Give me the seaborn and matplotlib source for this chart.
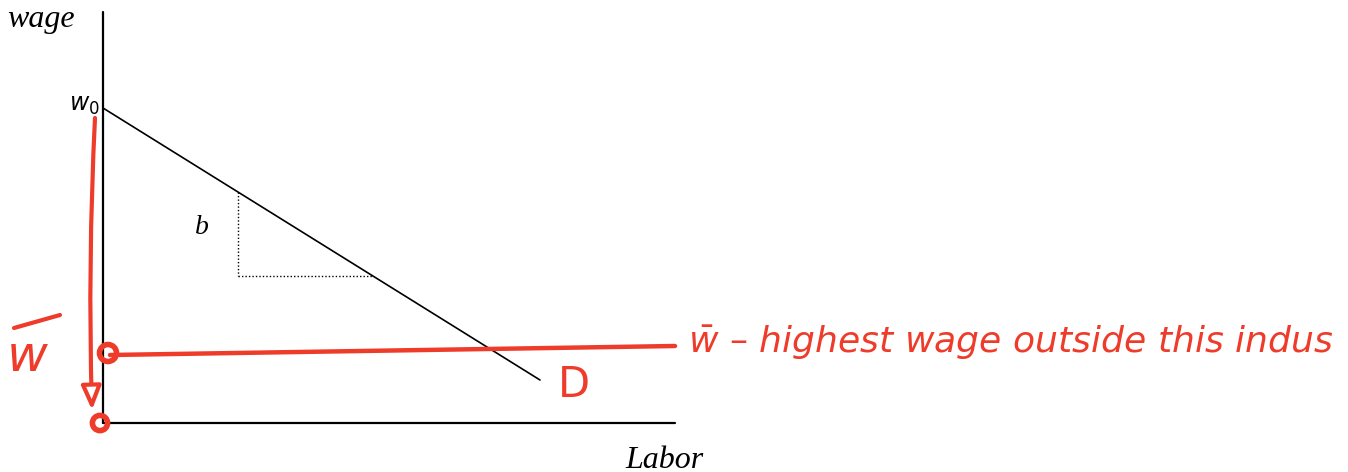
import matplotlib
matplotlib.use("Agg")
import matplotlib.pyplot as plt
import seaborn as sns
import pandas as pd

# Diagram geometry (units: Labor along x, wage along y, origin at the axes corner)
labor_axis_end = 572
wage_axis_top = 411
w0 = 315
demand_labor = [0, 437]
demand_wage = [w0, 43]
slope_labor = [135, 270]          # run of the slope triangle
slope_wage = [231, 147]           # rise of the slope triangle
wbar_labor = [7, 572]             # outside-option wage line
wbar_wage = [68, 77]
RED = "#EE3B2A"

sns.set_theme(style="white")
fig = plt.figure(figsize=(13.48, 4.72), dpi=100)
ax = fig.add_axes([0, 0, 1, 1])
ax.set_xlim(-103, 1245)
ax.set_ylim(-49, 423)
ax.axis("off")

# axes of the diagram
ax.plot([0, 0], [0, wage_axis_top], color="black", lw=1.6)
ax.plot([0, labor_axis_end], [0, 0], color="black", lw=1.6)

# demand curve
demand = pd.DataFrame({"Labor": demand_labor, "wage": demand_wage})
sns.lineplot(data=demand, x="Labor", y="wage", color="black", lw=1.2, ax=ax)

# slope triangle
ax.plot([slope_labor[0], slope_labor[0]], slope_wage, color="black", lw=1, ls=(0, (1, 1.5)))
ax.plot(slope_labor, [slope_wage[1], slope_wage[1]], color="black", lw=1, ls=(0, (1, 1.5)))

# black labels
ax.text(-96, 403, "wage", fontsize=23, family="Liberation Serif", style="italic",
        va="center", color="black")
ax.text(-3, 318, "$w_0$", fontsize=17, ha="right", va="center", color="black")
ax.text(92, 195, "b", fontsize=20, family="Liberation Serif", style="italic",
        va="center", color="black")
ax.text(522, -37, "Labor", fontsize=23, family="Liberation Serif", style="italic",
        va="center", color="black")

# red annotations: outside wage line and points
wbar = pd.DataFrame({"Labor": wbar_labor, "wage": wbar_wage})
sns.lineplot(data=wbar, x="Labor", y="wage", color=RED, lw=3.2, ax=ax)
ax.scatter([5, -3], [70, 0], s=[150, 120], facecolors="none", edgecolors=RED,
           linewidths=4, zorder=5)

# downward arrow from w0 to zero
ax.annotate("", xy=(-11, 13), xytext=(-8, 305),
            arrowprops=dict(arrowstyle="-|>,head_length=1.2,head_width=0.5", color=RED,
                            lw=3, fc="white", connectionstyle="arc3,rad=0.02",
                            shrinkA=0, shrinkB=0))

# hand labels
ax.plot([-89, -43], [95, 108], color=RED, lw=3, solid_capstyle="round")
ax.text(-96, 66, "w", fontsize=36, color=RED, family="DejaVu Sans", style="italic", va="center")
ax.text(455, 38, "D", fontsize=30, color=RED, family="DejaVu Sans", va="center")
ax.text(585, 80, r"$\bar{w}$ – highest wage outside this indus", fontsize=26, color=RED,
        family="DejaVu Sans", style="italic", va="center")

fig.savefig("out.png", dpi=100)
